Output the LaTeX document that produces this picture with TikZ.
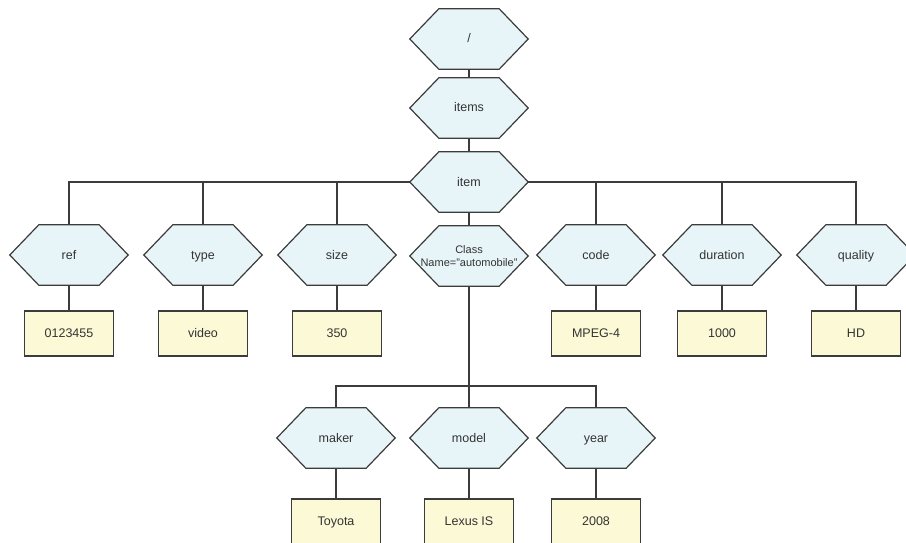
\documentclass[tikz,border=0pt]{standalone}
\usepackage{fontspec}
\setmainfont{Liberation Sans}
\usetikzlibrary{backgrounds}
\definecolor{hexfill}{HTML}{E8F5F8}
\definecolor{valfill}{HTML}{FCFAD6}
\definecolor{edge}{HTML}{3C3C3C}
\definecolor{ink}{HTML}{333333}
\begin{document}
\begin{tikzpicture}[x=1pt,y=-1pt,
  tag/.style={minimum width=118pt, minimum height=60pt, inner sep=0pt,
    font=\fontsize{12.5}{14}\selectfont, text=ink, align=center,
    text height=10pt, text depth=2pt},
  val/.style={draw=edge, fill=valfill, line width=1.2pt, minimum width=89pt,
    minimum height=45pt, inner sep=0pt, font=\fontsize{12.5}{14}\selectfont, text=ink,
    text height=10pt, text depth=2pt},
  link/.style={draw=edge, line width=1.2pt},
  hexline/.style={draw=edge, fill=hexfill, line width=1.2pt, line join=miter}]
\useasboundingbox (0,0) rectangle (906,543);
\clip (0,0) rectangle (906,543);

% element tags
\node[tag] (root)  at (469,39)  {/};
\node[tag] (items) at (469,108) {items};
\node[tag] (item)  at (469,182) {item};

\node[tag] (ref)      at (69,255)    {ref};
\node[tag] (type)     at (203,255)   {type};
\node[tag] (size)     at (337,255)   {size};
\node[tag, font=\fontsize{11}{13.5}\selectfont, text height=, text depth=] (cls) at (469,256) {Class\\Name="automobile"};
\node[tag] (code)     at (596,255)   {code};
\node[tag] (duration) at (722,255)   {duration};
\node[tag] (quality)  at (856,255)   {quality};

\node[tag] (maker) at (336,438) {maker};
\node[tag] (model) at (469,438) {model};
\node[tag] (year)  at (596,438) {year};

% text values
\node[val] (vref)  at (69,333.5)  {0123455};
\node[val] (vtype) at (203,333.5) {video};
\node[val] (vsize) at (337,333.5) {350};
\node[val] (vcode) at (596,333.5) {MPEG-4};
\node[val] (vdur)  at (722,333.5) {1000};
\node[val] (vqual) at (856,333.5) {HD};

\node[val] (vmaker) at (336,521.5) {Toyota};
\node[val] (vmodel) at (469,521.5) {Lexus IS};
\node[val] (vyear)  at (596,521.5) {2008};

\coordinate (j3) at (469,386);

\begin{scope}[on background layer]
  \fill[white] (0,0) rectangle (906,543);
  % tree links
  \draw[link] (root) -- (items);
  \draw[link] (items) -- (item);
  \draw[link] (item.west) -| (ref.north);
  \draw[link] (item.west) -| (type.north);
  \draw[link] (item.west) -| (size.north);
  \draw[link] (item) -- (cls);
  \draw[link] (item.east) -| (code.north);
  \draw[link] (item.east) -| (duration.north);
  \draw[link] (item.east) -| (quality.north);
  \draw[link] (cls.south) -- (j3) -- (model.north);
  \draw[link] (j3) -| (maker.north);
  \draw[link] (j3) -| (year.north);
  \draw[link] (ref) -- (vref);
  \draw[link] (type) -- (vtype);
  \draw[link] (size) -- (vsize);
  \draw[link] (code) -- (vcode);
  \draw[link] (duration) -- (vdur);
  \draw[link] (quality) -- (vqual);
  \draw[link] (maker) -- (vmaker);
  \draw[link] (model) -- (vmodel);
  \draw[link] (year) -- (vyear);
  % hexagon outlines behind the tag labels
  \foreach \n in {root,items,item,ref,type,size,cls,code,duration,quality,maker,model,year}
    \path[hexline] (\n.west) -- ([xshift=29pt]\n.north west) -- ([xshift=-29pt]\n.north east)
      -- (\n.east) -- ([xshift=-29pt]\n.south east) -- ([xshift=29pt]\n.south west) -- cycle;
\end{scope}
\end{tikzpicture}
\end{document}
